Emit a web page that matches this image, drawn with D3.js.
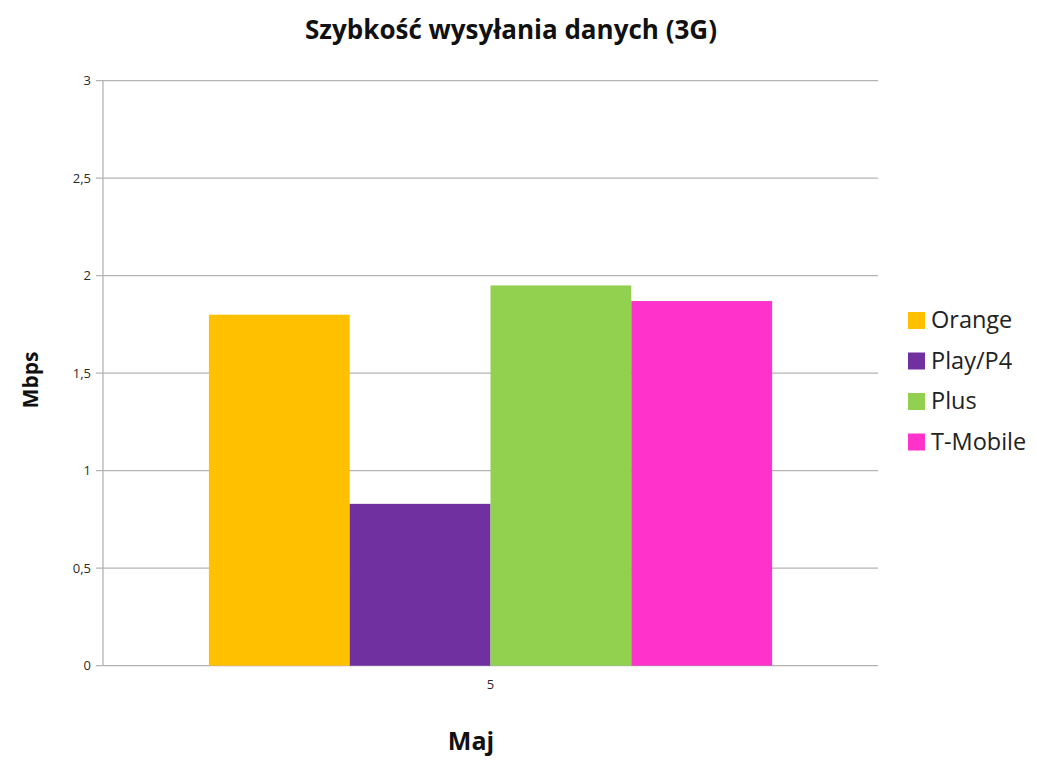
<!DOCTYPE html>
<html><head><meta charset="utf-8">
<script src="https://cdn.jsdelivr.net/npm/d3@7"></script>
<style>body{margin:0;background:#fff}svg{display:block}</style>
</head><body><svg id="c" width="1037" height="761"></svg>
<script>
const categories = ["5"];
const series = ["Orange", "Play/P4", "Plus", "T-Mobile"];
const values = [1.8, 0.83, 1.95, 1.87];
const colors = ["#FFC000", "#7030A0", "#92D050", "#FF33CC"];
const yTicks = [0, 0.5, 1, 1.5, 2, 2.5, 3];
const title = "Szybkość wysyłania danych (3G)";
const yTitle = "Mbps";
const xTitle = "Maj";

const svg = d3.select("#c");
const m = {l:103, r:878, t:80.7, b:665.7};
const y = d3.scaleLinear().domain([0,3]).range([m.b, m.t]);
const x0 = d3.scaleBand().domain(categories).range([m.l, m.r]).paddingOuter(0.188).paddingInner(0);
const x1 = d3.scaleBand().domain(series).range([0, x0.bandwidth()]);
const fmt = d => String(d).replace(".", ",");
const font = "'Open Sans', 'DejaVu Sans', sans-serif";

// gridlines
svg.append("g").selectAll("line").data(yTicks).join("line")
  .attr("x1", m.l - 7).attr("x2", m.r)
  .attr("y1", d => y(d)).attr("y2", d => y(d))
  .attr("stroke", "#b3b3b3").attr("stroke-width", 1.3);
// y axis line
svg.append("line").attr("x1", m.l).attr("x2", m.l).attr("y1", m.t).attr("y2", m.b)
  .attr("stroke", "#b3b3b3").attr("stroke-width", 1.3);
// y tick labels
svg.append("g").selectAll("text").data(yTicks).join("text")
  .attr("x", m.l - 12).attr("y", d => y(d)).attr("dy", "0.35em")
  .attr("text-anchor", "end").attr("font-family", font).attr("font-size", 13)
  .attr("fill", "#2b2b2b").text(fmt);

// bars
categories.forEach(c => {
  svg.append("g").selectAll("rect").data(series).join("rect")
    .attr("x", s => x0(c) + x1(s)).attr("width", x1.bandwidth())
    .attr("y", (s,i) => y(values[i])).attr("height", (s,i) => y(0) - y(values[i]))
    .attr("fill", (s,i) => colors[i]);
  svg.append("text").attr("x", x0(c) + x0.bandwidth()/2).attr("y", 689)
    .attr("text-anchor", "middle").attr("font-family", font).attr("font-size", 13)
    .attr("fill", "#2b2b2b").text(c);
});

// title
svg.append("text").attr("x", 511).attr("y", 39).attr("text-anchor", "middle")
  .attr("font-family", font).attr("font-weight", "bold").attr("font-size", 26)
  .attr("fill", "#111").text(title);
// axis titles
svg.append("text").attr("transform", "translate(38,380) rotate(-90)")
  .attr("text-anchor", "middle").attr("font-family", font).attr("font-weight", "bold")
  .attr("font-size", 21).attr("fill", "#111").text(yTitle);
svg.append("text").attr("x", 471).attr("y", 750).attr("text-anchor", "middle")
  .attr("font-family", font).attr("font-weight", "bold").attr("font-size", 25)
  .attr("fill", "#111").text(xTitle);

// legend
const lg = svg.append("g").selectAll("g").data(series).join("g")
  .attr("transform", (d,i) => `translate(908,${320 + i*40.5})`);
lg.append("rect").attr("x", 0).attr("y", -8).attr("width", 17).attr("height", 17)
  .attr("fill", (d,i) => colors[i]);
lg.append("text").attr("x", 23).attr("y", 0).attr("dy", "0.35em")
  .attr("font-family", font).attr("font-size", 23.5).attr("fill", "#222").text(d => d);
</script></body></html>
